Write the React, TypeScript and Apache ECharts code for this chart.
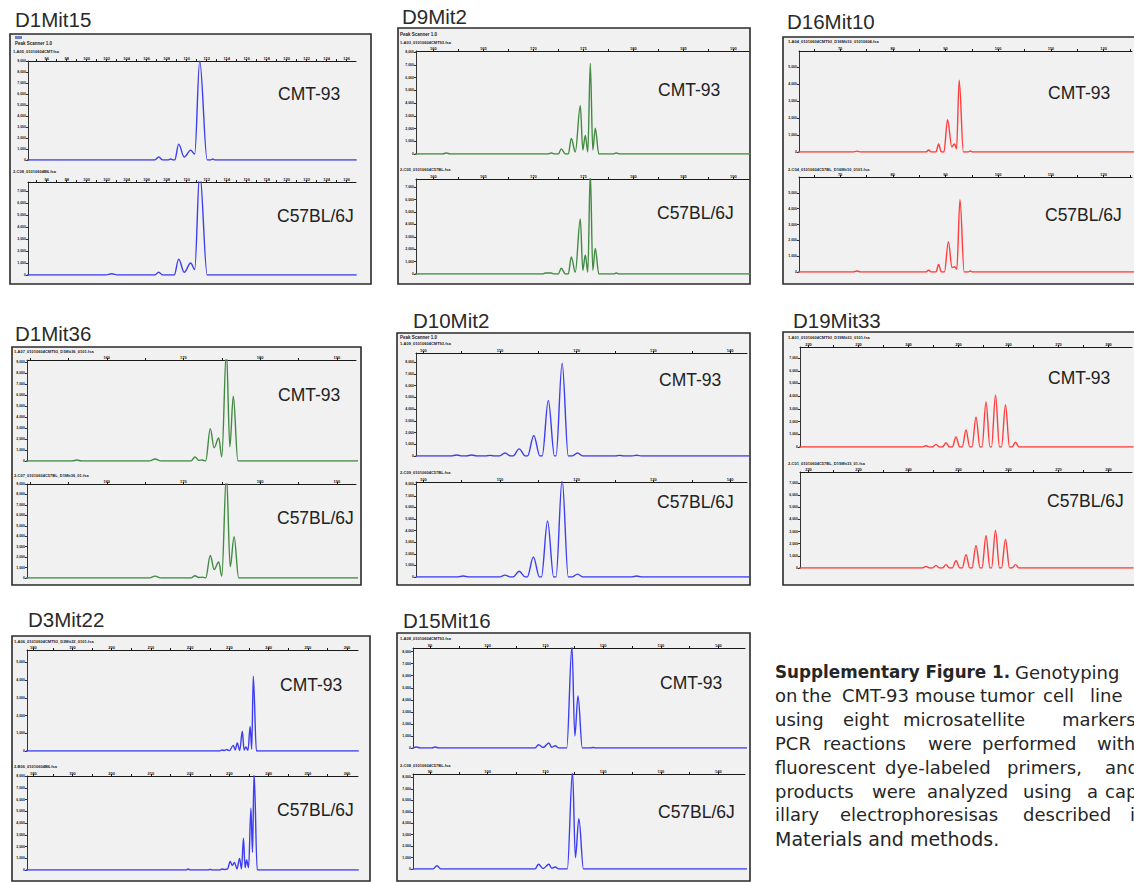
import React, { useEffect, useRef } from "react";
import * as echarts from "echarts";

const BLUE = "#3d3df2";
const GREEN = "#428a42";
const RED = "#ff3d3d";

// ---------- x tick labels (bp) ----------
const D1Mit15_xTicks = [96, 98, 100, 102, 104, 106, 108, 110, 112, 114, 116, 118, 120, 122, 124, 126];
const D9Mit2_xTicks = [160, 165, 170, 175, 180, 185, 190];
const D16Mit10_xTicks = [70, 80, 90, 100, 110, 120];
const D1Mit36_xTicks = [160, 170, 180, 190];
const D10Mit2_xTicks = [100, 110, 120, 130, 140];
const D19Mit33_xTicks = [220, 230, 240, 250, 260, 270, 280];
const D3Mit22_xTicks = [180, 190, 200, 210, 220, 230, 240, 250, 260];
const D15Mit16_xTicks = [90, 100, 110, 120, 130, 140];

// ---------- y tick labels (RFU) ----------
const yTicks5 = [0, 1000, 2000, 3000, 4000, 5000];
const yTicks7 = [0, 1000, 2000, 3000, 4000, 5000, 6000, 7000];
const yTicks8 = [0, 1000, 2000, 3000, 4000, 5000, 6000, 7000, 8000];
const yTicks9 = [0, 1000, 2000, 3000, 4000, 5000, 6000, 7000, 8000, 9000];

// ---------- traces [size bp, RFU] ----------
const D1Mit15_CMT93 = [[94, 0], [106.8, 0], [107.2, 270], [107.6, 0], [108.1, 0], [108.4, 90], [108.7, 0], [108.8, 0], [109.2, 1440], [109.75, 270], [110.4, 900], [110.8, 540], [111.3, 9000], [112.05, 0], [112.4, 0], [112.6, 90], [112.8, 0], [127, 0]];
const D1Mit15_C57 = [[94, 0], [101.9, 0], [102.5, 100], [103.1, 0], [106.8, 0], [107.2, 230], [107.6, 0], [108.75, 0], [109.2, 1320], [109.75, 230], [110.4, 1000], [110.8, 460], [111.3, 8600], [112.05, 0], [127, 0]];

const D9Mit2_CMT93 = [[158, 0], [160.9, 0], [161.3, 80], [161.7, 0], [171.5, 0], [171.8, 80], [172.1, 0], [172.5, 0], [172.8, 405], [173.2, 0], [173.5, 0], [173.8, 1215], [174.2, 160], [174.7, 3800], [174.95, 320], [175.2, 1460], [175.45, 160], [175.7, 7130], [175.95, 320], [176.2, 2025], [176.55, 0], [178.0, 0], [178.3, 80], [178.6, 0], [192, 0]];
const D9Mit2_C57 = [[158, 0], [170.9, 0], [171.2, 75], [171.5, 75], [171.8, 75], [172.1, 0], [172.5, 0], [172.8, 460], [173.2, 0], [173.5, 0], [173.8, 1380], [174.2, 150], [174.7, 4440], [174.95, 300], [175.2, 1530], [175.45, 150], [175.7, 8200], [175.95, 300], [176.2, 2070], [176.55, 0], [178.0, 0], [178.3, 75], [178.6, 0], [192, 0]];

const D16Mit10_CMT93 = [[62, 0], [72.5, 0], [73.2, 50], [73.9, 0], [86.3, 0], [86.8, 120], [87.3, 0], [88.2, 0], [88.7, 475], [89.2, 0], [89.7, 0], [90.4, 1900], [91.2, 300], [91.7, 475], [92.1, 180], [92.6, 4220], [93.4, 0], [94.3, 0], [94.7, 60], [95.1, 0], [126, 0]];
const D16Mit10_C57 = [[62, 0], [72.5, 0], [73.2, 60], [73.9, 0], [86.3, 0], [86.8, 120], [87.3, 0], [88.2, 0], [88.7, 480], [89.2, 0], [89.8, 0], [90.55, 1920], [91.25, 280], [91.7, 330], [92.15, 180], [92.75, 4560], [93.55, 0], [94.3, 0], [94.7, 60], [95.1, 0], [126, 0]];

const D1Mit36_CMT93 = [[149, 0], [155.5, 0], [156.1, 90], [156.7, 0], [165.5, 0], [166.3, 180], [167.1, 0], [171.0, 0], [171.5, 370], [172.0, 60], [172.5, 90], [172.9, 0], [173.5, 2950], [174.0, 1200], [174.6, 2100], [175.0, 370], [175.6, 10100], [176.05, 1290], [176.5, 5900], [177.1, 0], [193, 0]];
const D1Mit36_C57 = [[149, 0], [165.5, 0], [166.3, 180], [167.1, 0], [171.0, 0], [171.5, 220], [172.0, 50], [172.5, 80], [172.9, 0], [173.5, 2160], [174.0, 810], [174.6, 1530], [175.0, 180], [175.6, 9900], [176.1, 1080], [176.6, 3960], [177.2, 0], [193, 0]];

const D10Mit2_CMT93 = [[99, 0], [103.6, 0], [104.35, 90], [105.1, 0], [105.6, 0], [106.3, 90], [107.0, 0], [108.1, 0], [108.7, 50], [109.3, 0], [109.9, 0], [110.65, 260], [111.4, 0], [111.7, 0], [112.5, 610], [113.3, 0], [113.6, 0], [114.4, 1750], [115.2, 0], [115.5, 0], [116.3, 4740], [117.1, 0], [117.3, 0], [118.1, 7900], [118.9, 0], [119.4, 0], [120.1, 260], [120.8, 0], [125.0, 0], [125.6, 50], [126.2, 0], [127.2, 0], [127.8, 60], [128.4, 0], [143, 0]];
const D10Mit2_C57 = [[99, 0], [104.5, 0], [105.2, 80], [105.9, 0], [109.9, 0], [110.65, 160], [111.4, 0], [111.7, 0], [112.5, 490], [113.3, 0], [113.55, 0], [114.35, 1720], [115.15, 0], [115.4, 0], [116.2, 4840], [117.0, 0], [117.3, 0], [118.1, 8400], [118.9, 0], [119.4, 0], [120.1, 250], [120.8, 0], [127.2, 0], [127.8, 80], [128.4, 0], [143, 0]];

const D19Mit33_CMT93 = [[218, 0], [242.8, 0], [243.5, 100], [244.2, 0], [244.8, 0], [245.5, 210], [246.2, 0], [246.8, 0], [247.5, 340], [248.2, 0], [248.75, 0], [249.5, 790], [250.25, 0], [250.75, 0], [251.5, 1340], [252.25, 0], [252.7, 0], [253.5, 2360], [254.3, 0], [254.7, 0], [255.5, 3540], [256.3, 0], [256.6, 0], [257.4, 4090], [258.2, 0], [258.6, 0], [259.4, 3300], [260.2, 0], [260.7, 0], [261.4, 370], [262.1, 0], [285, 0]];
const D19Mit33_C57 = [[218, 0], [242.8, 0], [243.5, 135], [244.2, 0], [244.8, 0], [245.5, 220], [246.2, 0], [246.8, 0], [247.5, 280], [248.2, 0], [248.75, 0], [249.5, 600], [250.25, 0], [250.75, 0], [251.5, 1100], [252.25, 0], [252.7, 0], [253.5, 1860], [254.3, 0], [254.7, 0], [255.5, 2660], [256.3, 0], [256.6, 0], [257.4, 3080], [258.2, 0], [258.6, 0], [259.4, 2370], [260.2, 0], [260.7, 0], [261.4, 280], [262.1, 0], [285, 0]];

const D3Mit22_CMT93 = [[178, 0], [227.5, 0], [228.1, 57], [228.7, 30], [229.3, 85], [230.0, 20], [231.0, 320], [231.5, 60], [232.0, 455], [232.65, 30], [233.3, 1120], [233.75, 60], [234.2, 230], [234.75, 40], [235.3, 1390], [235.7, 100], [236.1, 4220], [236.9, 0], [263, 0]];
const D3Mit22_C57 = [[178, 0], [218.9, 0], [219.5, 80], [220.1, 0], [224.5, 0], [225.1, 40], [225.7, 0], [227.5, 0], [228.1, 80], [228.8, 40], [229.5, 80], [230.2, 720], [230.75, 400], [231.3, 640], [231.95, 100], [232.6, 990], [233.1, 100], [233.6, 2700], [234.0, 200], [234.4, 850], [234.9, 200], [235.5, 5250], [235.9, 1500], [236.3, 8300], [237.1, 0], [263, 0]];

const D15Mit16_CMT93 = [[87, 0], [87.7, 80], [88.3, 0], [90.3, 0], [90.9, 80], [91.5, 0], [108.2, 0], [108.8, 275], [109.6, 40], [110.6, 415], [111.1, 60], [111.7, 190], [112.3, 0], [113.7, 0], [114.6, 8450], [115.1, 1000], [115.65, 4320], [116.4, 0], [117.8, 0], [118.3, 40], [118.8, 0], [145, 0]];
const D15Mit16_C57 = [[87, 0], [90.5, 0], [91.2, 290], [91.9, 0], [108.2, 0], [108.8, 415], [109.6, 40], [110.6, 415], [111.1, 60], [111.7, 170], [112.3, 0], [113.8, 0], [114.7, 8500], [115.2, 1000], [115.8, 4400], [116.6, 0], [145, 0]];

// ---------- panels ----------
const panels = [
  {
    name: "D1Mit15", color: BLUE, xMin: 94.13, xMax: 126.93, xTicks: D1Mit15_xTicks, xStep: 2,
    top: { data: D1Mit15_CMT93, yMax: 9000, yTicks: yTicks9 },
    bot: { data: D1Mit15_C57, yMax: 7750, yTicks: yTicks7 },
    hdr: ["Peak Scanner 1.0", "1-A05_01010604CMT.fsa", "2-C08_01010604B6.fsa"],
    L: { box: [10, 34, 361, 250], title: [15, 19], gT: [28, 61, 328, 99], gB: [28, 182, 328, 93], h0: [15, 43], h1: [13, 51], h2: [13, 171], l1: [278, 94], l2: [277, 216] },
  },
  {
    name: "D9Mit2", color: GREEN, xMin: 158.27, xMax: 191.57, xTicks: D9Mit2_xTicks, xStep: 5,
    top: { data: D9Mit2_CMT93, yMax: 8100, yTicks: yTicks8 },
    bot: { data: D9Mit2_C57, yMax: 7660, yTicks: yTicks7 },
    hdr: ["Peak Scanner 1.0", "1-A03_01010604CMT93.fsa", "2-C05_01010604C57BL.fsa"],
    L: { box: [398, 28, 352, 256], title: [402, 16], gT: [416, 51, 333, 103], gB: [416, 179, 333, 95], h0: [400, 34], h1: [400, 42], h2: [400, 169], l1: [658, 90], l2: [657, 213] },
  },
  {
    name: "D16Mit10", color: RED, xMin: 62.2, xMax: 125.4, xTicks: D16Mit10_xTicks, xStep: 10,
    top: { data: D16Mit10_CMT93, yMax: 5940, yTicks: yTicks5 },
    bot: { data: D16Mit10_C57, yMax: 6000, yTicks: yTicks5 },
    hdr: ["", "1-A04_01010604CMT93_D16Mit10_01010604.fsa", "2-C04_01010604C57BL_D16Mit10_0101.fsa"],
    L: { box: [783, 37, 380, 247], title: [787, 21], gT: [799, 51, 333, 101], gB: [799, 177, 333, 95], h0: [788, 40], h1: [788, 41], h2: [788, 169.5], l1: [1048, 93], l2: [1045, 215] },
  },
  {
    name: "D1Mit36", color: GREEN, xMin: 149.6, xMax: 192.5, xTicks: D1Mit36_xTicks, xStep: 10,
    top: { data: D1Mit36_CMT93, yMax: 9200, yTicks: yTicks9 },
    bot: { data: D1Mit36_C57, yMax: 9000, yTicks: yTicks9 },
    hdr: ["", "1-A07_01010604CMT93_D1Mit36_0101.fsa", "2-C07_01010604C57BL_D1Mit36_01.fsa"],
    L: { box: [12, 347, 349, 238], title: [15, 333], gT: [27, 360, 329, 101], gB: [27, 484, 329, 94], h0: [14, 350], h1: [14, 351.5], h2: [14, 475.5], l1: [278, 395], l2: [277, 518] },
  },
  {
    name: "D10Mit2", color: BLUE, xMin: 99.05, xMax: 142.2, xTicks: D10Mit2_xTicks, xStep: 10,
    top: { data: D10Mit2_CMT93, yMax: 8770, yTicks: yTicks8 },
    bot: { data: D10Mit2_C57, yMax: 8200, yTicks: yTicks8 },
    hdr: ["Peak Scanner 1.0", "1-A09_01010604CMT93.fsa", "2-C09_01010604C57BL.fsa"],
    L: { box: [397, 333, 353, 252], title: [413, 320], gT: [416, 353, 331, 103], gB: [416, 482, 331, 95], h0: [400, 337], h1: [400, 343.5], h2: [400, 472.5], l1: [659, 380], l2: [657, 502] },
  },
  {
    name: "D19Mit33", color: RED, xMin: 218.3, xMax: 284.7, xTicks: D19Mit33_xTicks, xStep: 10,
    top: { data: D19Mit33_CMT93, yMax: 7870, yTicks: yTicks7 },
    bot: { data: D19Mit33_C57, yMax: 7900, yTicks: yTicks7 },
    hdr: ["", "1-A01_01010604CMT93_D19Mit33_0101.fsa", "2-C01_01010604C57BL_D19Mit33_01.fsa"],
    L: { box: [783, 332, 380, 253], title: [793, 320], gT: [800, 347, 332, 100], gB: [800, 472, 332, 96], h0: [788, 336], h1: [788, 337.5], h2: [788, 463.5], l1: [1048, 378], l2: [1047, 501] },
  },
  {
    name: "D3Mit22", color: BLUE, xMin: 178.4, xMax: 262.8, xTicks: D3Mit22_xTicks, xStep: 10,
    top: { data: D3Mit22_CMT93, yMax: 5700, yTicks: yTicks5 },
    bot: { data: D3Mit22_C57, yMax: 8000, yTicks: yTicks8 },
    hdr: ["", "1-A06_01010604CMT93_D3Mit22_0101.fsa", "2-B06_01010604B6.fsa"],
    L: { box: [12, 636, 358, 245], title: [28, 619], gT: [27, 650, 331, 101], gB: [27, 776, 331, 94], h0: [14, 640], h1: [14, 641.5], h2: [14, 766.5], l1: [280, 685], l2: [277, 810] },
  },
  {
    name: "D15Mit16", color: BLUE, xMin: 87.05, xMax: 144.6, xTicks: D15Mit16_xTicks, xStep: 10,
    top: { data: D15Mit16_CMT93, yMax: 8300, yTicks: yTicks8 },
    bot: { data: D15Mit16_C57, yMax: 8300, yTicks: yTicks8 },
    hdr: ["", "1-A08_01010604CMT93.fsa", "2-C08_01010604C57BL.fsa"],
    L: { box: [397, 633, 353, 248], title: [403, 620], gT: [413, 648, 332, 100], gB: [413, 774, 332, 95], h0: [400, 637], h1: [400, 638.5], h2: [400, 765.5], l1: [660, 683], l2: [658, 812] },
  },
];

// ---------- caption ----------
const captionLines: [string, number, boolean][][] = [
  [["Supplementary Figure 1.", 775, true], ["Genotyping", 1015, false]],
  [["on", 775, false], ["the", 802, false], ["CMT-93", 842, false], ["mouse", 915, false], ["tumor", 980, false], ["cell", 1043, false], ["line", 1090, false]],
  [["using", 775, false], ["eight", 843, false], ["microsatellite", 903, false], ["markers.", 1062, false]],
  [["PCR", 775, false], ["reactions", 823, false], ["were", 928, false], ["performed", 982, false], ["with", 1097, false]],
  [["fluorescent", 775, false], ["dye-labeled", 885, false], ["primers,", 1007, false], ["and", 1105, false]],
  [["products", 775, false], ["were", 872, false], ["analyzed", 927, false], ["using", 1023, false], ["a", 1087, false], ["cap-", 1105, false]],
  [["illary", 775, false], ["electrophoresisas", 840, false], ["described", 1023, false], ["in", 1130, false]],
  [["Materials and methods.", 775, false]],
];

function tickValues(min: number, max: number, step: number) {
  const half = step / 2;
  const out: number[] = [];
  let v = Math.ceil(min / half) * half;
  while (v <= max + 1e-9) {
    out.push(Math.round(v * 100) / 100);
    v += half;
  }
  return out;
}

function txt(x: number, y: number, text: string, size: number, opts: any = {}) {
  return {
    type: "text",
    x,
    y,
    z: 20,
    silent: true,
    style: {
      text,
      fontSize: size,
      fontFamily: opts.family || "Liberation Sans",
      fontWeight: opts.weight || "normal",
      fill: opts.fill || "#222",
      textAlign: "left",
      textVerticalAlign: "middle",
      align: "left",
      verticalAlign: "middle",
    },
  };
}

function buildOption() {
  const grid: any[] = [];
  const xAxis: any[] = [];
  const yAxis: any[] = [];
  const series: any[] = [];
  const graphic: any[] = [];

  panels.forEach((p) => {
    const L = p.L;
    graphic.push({
      type: "rect",
      z: -5,
      silent: true,
      shape: { x: L.box[0], y: L.box[1], width: L.box[2], height: L.box[3] },
      style: { fill: "#f1f1f1", stroke: "#2a2a2a", lineWidth: 1.6 },
    });
    graphic.push(txt(L.title[0], L.title[1], p.name, 20.5, { fill: "#2a2a2a" }));
    if (p.hdr[0]) graphic.push(txt(L.h0[0], L.h0[1], p.hdr[0], 4.5, { weight: "bold" }));
    graphic.push(txt(L.h1[0], L.h1[1], p.hdr[1], 4, { weight: "bold" }));
    graphic.push(txt(L.h2[0], L.h2[1], p.hdr[2], 4, { weight: "bold" }));
    graphic.push(txt(L.l1[0], L.l1[1], "CMT-93", 17.5));
    graphic.push(txt(L.l2[0], L.l2[1], "C57BL/6J", 17.5));

    const ticks = tickValues(p.xMin, p.xMax, p.xStep);
    [
      { g: L.gT, tr: p.top, label: "CMT-93" },
      { g: L.gB, tr: p.bot, label: "C57BL/6J" },
    ].forEach((s) => {
      const idx = grid.length;
      grid.push({
        left: s.g[0],
        top: s.g[1],
        width: s.g[2],
        height: s.g[3],
        containLabel: false,
        outerBoundsMode: "none",
        show: false,
      });
      xAxis.push({
        gridIndex: idx,
        type: "value",
        position: "top",
        min: p.xMin,
        max: p.xMax,
        z: 5,
        axisLine: { show: true, onZero: false, lineStyle: { color: "#1a1a1a", width: 1 } },
        axisTick: { show: true, length: 2, inside: false, customValues: ticks, lineStyle: { color: "#1a1a1a", width: 1 } },
        axisLabel: {
          show: true,
          customValues: p.xTicks,
          fontSize: 4,
          fontWeight: "bold",
          color: "#1a1a1a",
          margin: 1,
          fontFamily: "Liberation Sans",
        },
        splitLine: { show: false },
      });
      yAxis.push({
        gridIndex: idx,
        type: "value",
        min: 0,
        max: s.tr.yMax,
        z: 5,
        axisLine: { show: true, onZero: false, lineStyle: { color: "#333", width: 1 } },
        axisTick: { show: true, length: 2, customValues: s.tr.yTicks, lineStyle: { color: "#333" } },
        axisLabel: {
          show: true,
          customValues: s.tr.yTicks,
          fontSize: 3.5,
          fontWeight: "bold",
          color: "#1a1a1a",
          margin: 2,
          fontFamily: "Liberation Sans",
        },
        splitLine: { show: false },
      });
      series.push({
        type: "line",
        name: p.name + " " + s.label,
        xAxisIndex: idx,
        yAxisIndex: idx,
        data: s.tr.data,
        symbol: "none",
        showSymbol: false,
        smooth: 0.35,
        smoothMonotone: "x",
        clip: true,
        silent: true,
        z: 6,
        lineStyle: { color: p.color, width: 1.4 },
      });
    });
  });

  // small icon in first panel
  graphic.push({
    type: "rect",
    z: 20,
    silent: true,
    shape: { x: 15, y: 36, width: 7, height: 3 },
    style: { fill: "#7080c8" },
  });

  captionLines.forEach((line, i) => {
    const y = 672 + i * 23.8;
    line.forEach(([w, x, bold]) => {
      graphic.push(
        bold
          ? txt(x, y, w, 16.8, { family: "DejaVu Sans", weight: "bold", fill: "#262626" })
          : txt(x, y, w, i === 7 ? 19 : 18, { family: "DejaVu Sans", fill: "#262626" })
      );
    });
  });

  return {
    animation: false,
    backgroundColor: "#ffffff",
    grid,
    xAxis,
    yAxis,
    series,
    graphic: { elements: graphic },
  };
}

export default function App() {
  const ref = useRef<HTMLDivElement>(null);
  useEffect(() => {
    if (!ref.current) return;
    const chart = echarts.init(ref.current, null, { renderer: "svg" });
    chart.setOption(buildOption() as any);
    return () => chart.dispose();
  }, []);
  return (
    <div
      ref={ref}
      style={{ position: "absolute", left: 0, top: 0, width: 1134, height: 882, background: "#fff" }}
    />
  );
}
